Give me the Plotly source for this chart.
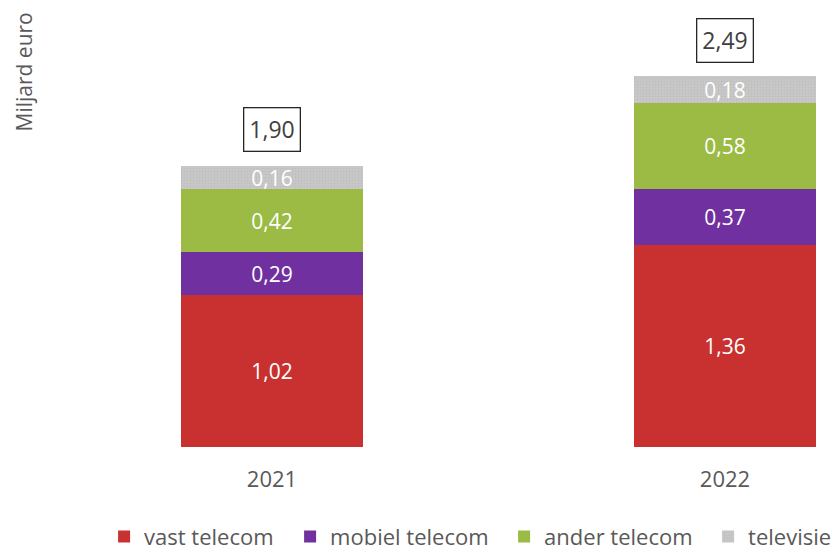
import plotly.graph_objects as go

years = ["2021", "2022"]
series_names = ["vast telecom", "mobiel telecom", "ander telecom", "televisie"]
vast = [1.02, 1.36]
mobiel = [0.29, 0.37]
ander = [0.42, 0.58]
televisie = [0.16, 0.18]
total_labels = ["1,90", "2,49"]

colors = ["#C8312F", "#7030A0", "#9BBB45", "#C4C4C4"]
legend_widths = [141, 169, 159, 85]
values = [vast, mobiel, ander, televisie]
FONT = "Open Sans, sans-serif"
TXT = "#595959"

fig = go.Figure()
for name, vals, col, lw in zip(series_names, values, colors, legend_widths):
    marker = dict(color=col, line=dict(width=0))
    if name == "televisie":
        marker["pattern"] = dict(shape=".", fgcolor="#B4B4B4", bgcolor="#C8C8C8",
                                 size=3, solidity=0.3)
    fig.add_trace(go.Bar(
        x=years, y=vals, name=name, marker=marker, legendwidth=lw,
        texttemplate="%{y:.2f}", textposition="inside", insidetextanchor="middle",
        textfont=dict(color="white", size=21, family=FONT),
        textangle=0, constraintext="none",
    ))

totals = [sum(v[i] for v in values) for i in range(len(years))]
for i, (tot, lab) in enumerate(zip(totals, total_labels)):
    fig.add_annotation(x=i, y=tot, text=lab, showarrow=False, yshift=36,
                       font=dict(size=23, color="#404040", family=FONT),
                       bordercolor="#262626", borderwidth=1.3, borderpad=5,
                       bgcolor="white", yanchor="middle", xanchor="center")

fig.add_annotation(xref="paper", yref="paper", x=-0.1853, y=1.0234, text="Miljard euro",
                   textangle=-90, showarrow=False, xanchor="center", yanchor="top",
                   font=dict(size=21, color=TXT, family=FONT))

fig.update_layout(
    width=832, height=542,
    barmode="stack", bargap=0.598,
    separators=",.",
    plot_bgcolor="white", paper_bgcolor="white",
    margin=dict(l=142, r=10, t=12, b=103, autoexpand=False),
    font=dict(family=FONT, color=TXT),
    showlegend=True,
    legend=dict(orientation="h", x=-0.0675, xanchor="left", y=-0.21, yanchor="middle",
                font=dict(size=22, color=TXT, family=FONT),
                traceorder="normal", itemwidth=30, tracegroupgap=0),
    xaxis=dict(type="category", range=[-0.2693, 1.2318], showline=False, showgrid=False,
               ticks="", tickfont=dict(size=22, color=TXT, family=FONT),
               ticklabelstandoff=17),
    yaxis=dict(range=[0, 2.868], showticklabels=False, showgrid=False,
               zeroline=False, showline=False),
)

fig.write_html("out.html")
